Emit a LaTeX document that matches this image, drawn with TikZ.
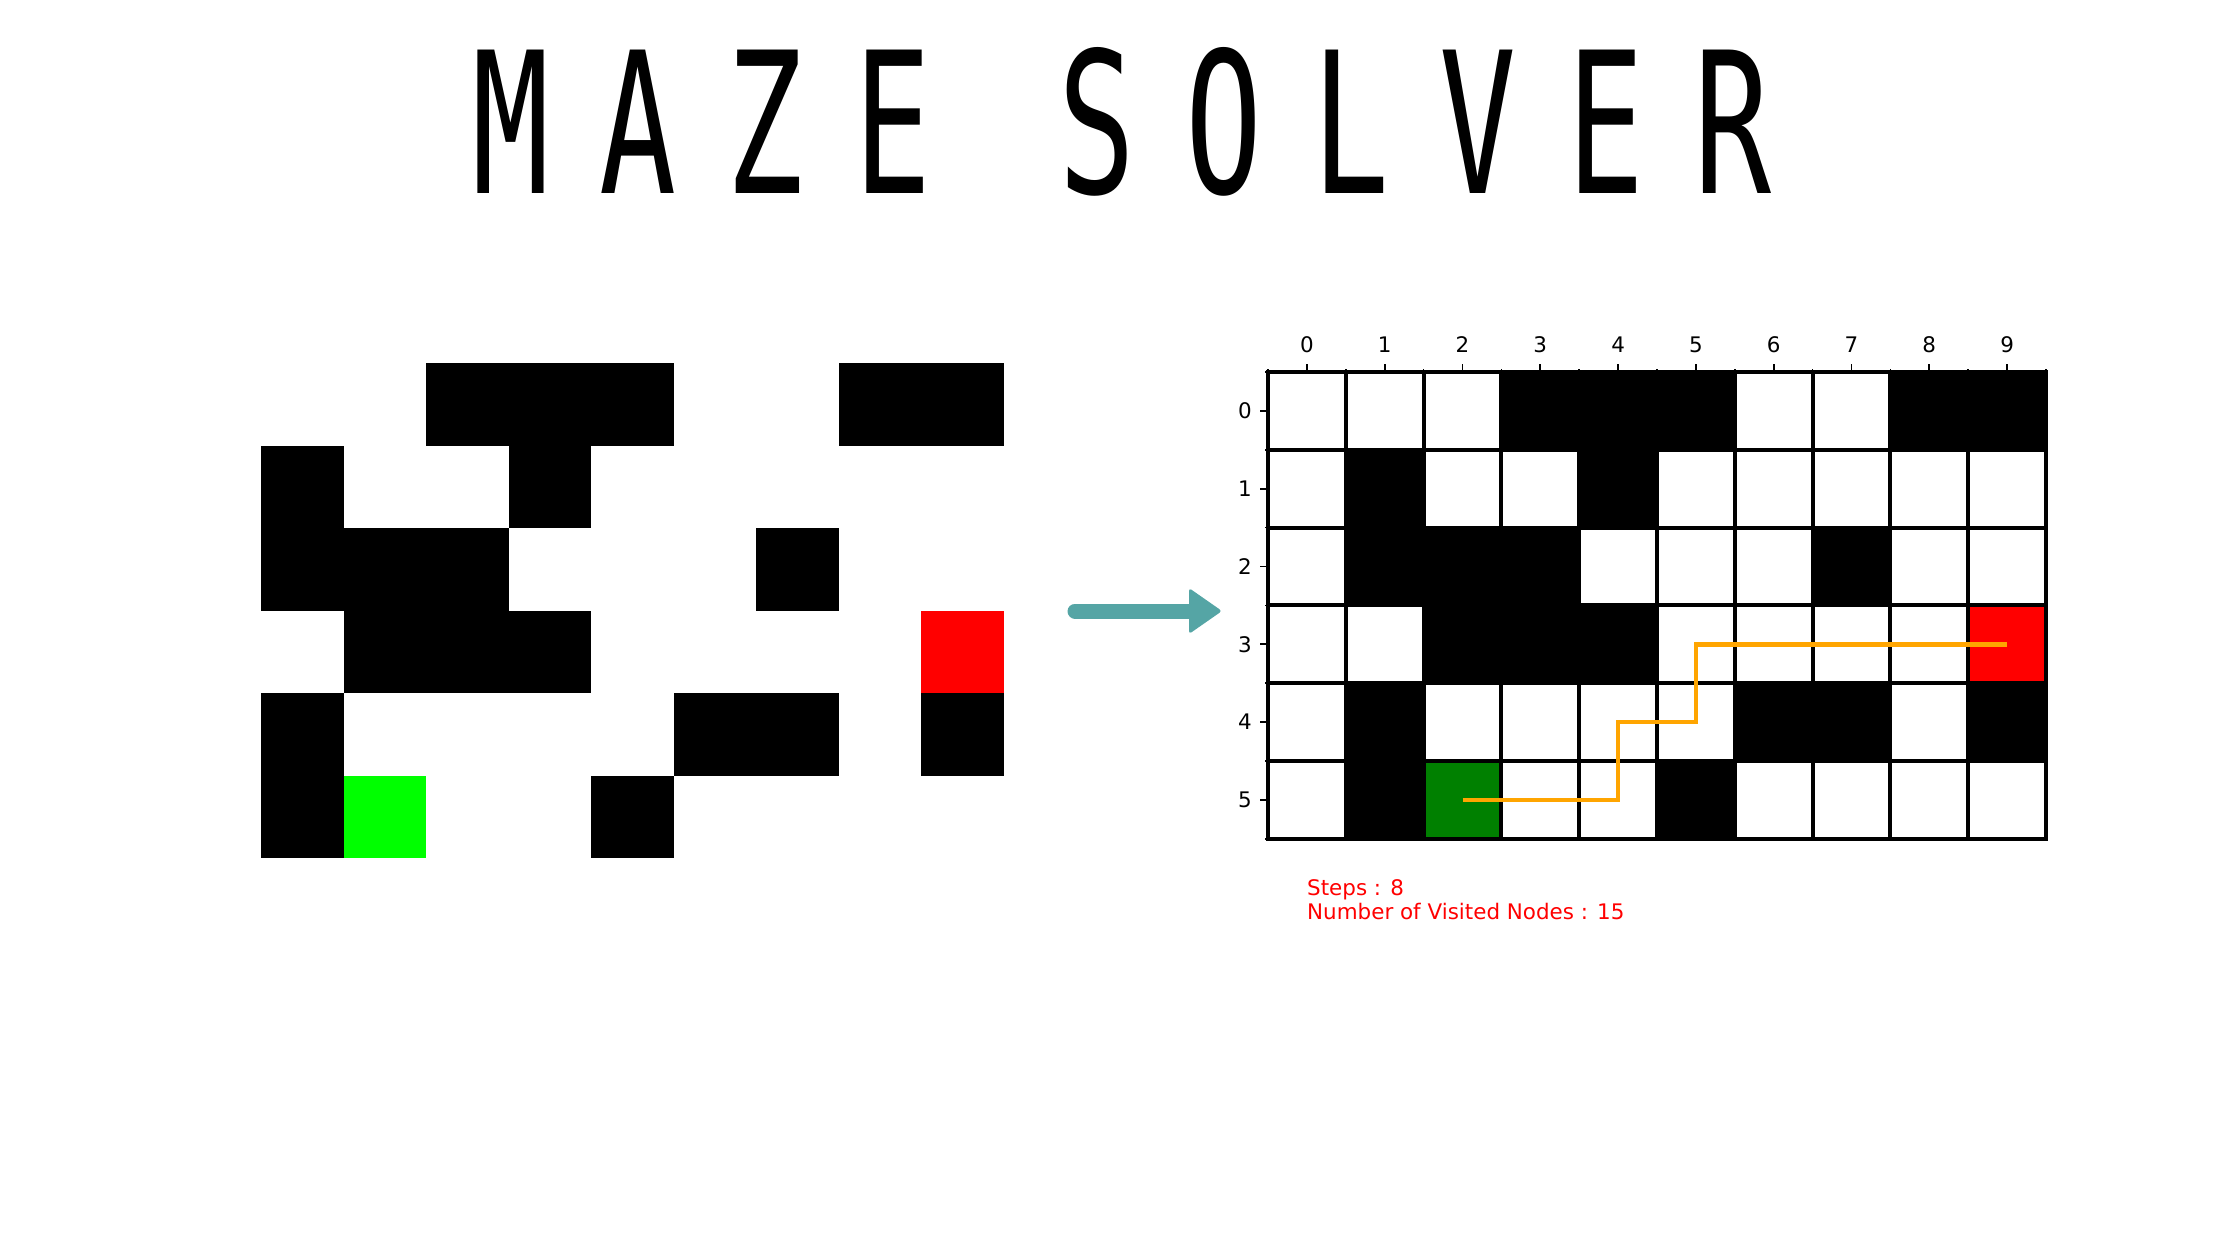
\documentclass[tikz,border=0pt]{standalone}
\usepackage{fontspec}
\setsansfont{DejaVu Sans}
\setmonofont{DejaVu Sans Mono}
\newfontfamily\titlefont[FakeStretch=0.65,LetterSpace=25.5]{DejaVu Sans Mono}
\usepackage{tikz}
\definecolor{arrowteal}{RGB}{85,165,165}
\definecolor{startgreen}{RGB}{0,128,0}
\definecolor{pathorange}{RGB}{255,165,0}
\newcommand{\mazewalls}{2/0,3/0,4/0,7/0,8/0,0/1,3/1,0/2,1/2,2/2,6/2,1/3,2/3,3/3,0/4,5/4,6/4,8/4,0/5,4/5}

\begin{document}
\begin{tikzpicture}[x=0.1mm,y=-0.1mm,
        ticklabel/.style={font=\sffamily\fontsize{6.1}{7}\selectfont,inner sep=0pt},
        cell/.style={draw=black,line width=0.4mm},
        tickline/.style={line width=0.17mm}]
            \useasboundingbox (0,0) rectangle (2240,1260);
            \node[font=\titlefont\fontsize{56}{60}\selectfont,anchor=base,inner sep=0pt] (title) at (1122,193) {MAZE SOLVER};
            \begin{scope}[shift={(261,363)},x=8.25mm,y=-8.25mm]
                \foreach \c/\r in \mazewalls \fill (\c,\r) rectangle ++(1,1);
                \fill[red] (8,3) rectangle ++(1,1);
                \fill[green] (1,5) rectangle ++(1,1);
            \end{scope}
            \coordinate (arrL) at (1075,611);
            \coordinate (arrR) at (1222,611);
            \draw[arrowteal,line width=1.5mm,line cap=round] (arrL) -- ([xshift=-2.5mm]arrR);
            \fill[arrowteal,rounded corners=0.3mm] (arrR) -- ++(-33,-23) -- ++(0,46) -- cycle;
            \begin{scope}[shift={(1268,372)},x=7.78mm,y=-7.78mm]
                \foreach \c in {0,...,9} \foreach \r in {0,...,5} \filldraw[cell,fill=white] (\c,\r) rectangle ++(1,1);
                \foreach \c/\r in \mazewalls \filldraw[cell,fill=black] (\c+1,\r) rectangle ++(1,1);
                \filldraw[cell,fill=red] (9,3) rectangle ++(1,1);
                \filldraw[cell,fill=startgreen] (2,5) rectangle ++(1,1);
                \draw[pathorange,line width=0.45mm] (2.5,5.5) -- (4.5,5.5) -- (4.5,4.5) -- (5.5,4.5) -- (5.5,3.5) -- (9.5,3.5);
                \draw[tickline] (0,0) rectangle (10,6);
                \foreach \c in {0,...,9} {
                    \draw[tickline] (\c+0.5,0) -- ++(0,-0.1);
                    \node[ticklabel,anchor=base] (top\c) at (\c+0.5,-0.245) {\c};
                }
                \foreach \c in {0,...,10} \draw[tickline] (\c,0) -- ++(0,-0.04);
                \foreach \r in {0,...,5} {
                    \draw[tickline] (0,\r+0.5) -- ++(-0.1,0);
                    \node[ticklabel,anchor=base east] (side\r) at (-0.2,\r+0.6) {\r};
                }
                \foreach \r in {0,...,6} \draw[tickline] (0,\r) -- ++(-0.04,0);
            \end{scope}
            \node[anchor=north west,inner sep=0pt,align=left,text=red,font=\sffamily\fontsize{6.1}{6.83}\selectfont] (stats) at (1306.5,879) {Steps : 8\\Number of Visited Nodes : 15};
\end{tikzpicture}
\end{document}
